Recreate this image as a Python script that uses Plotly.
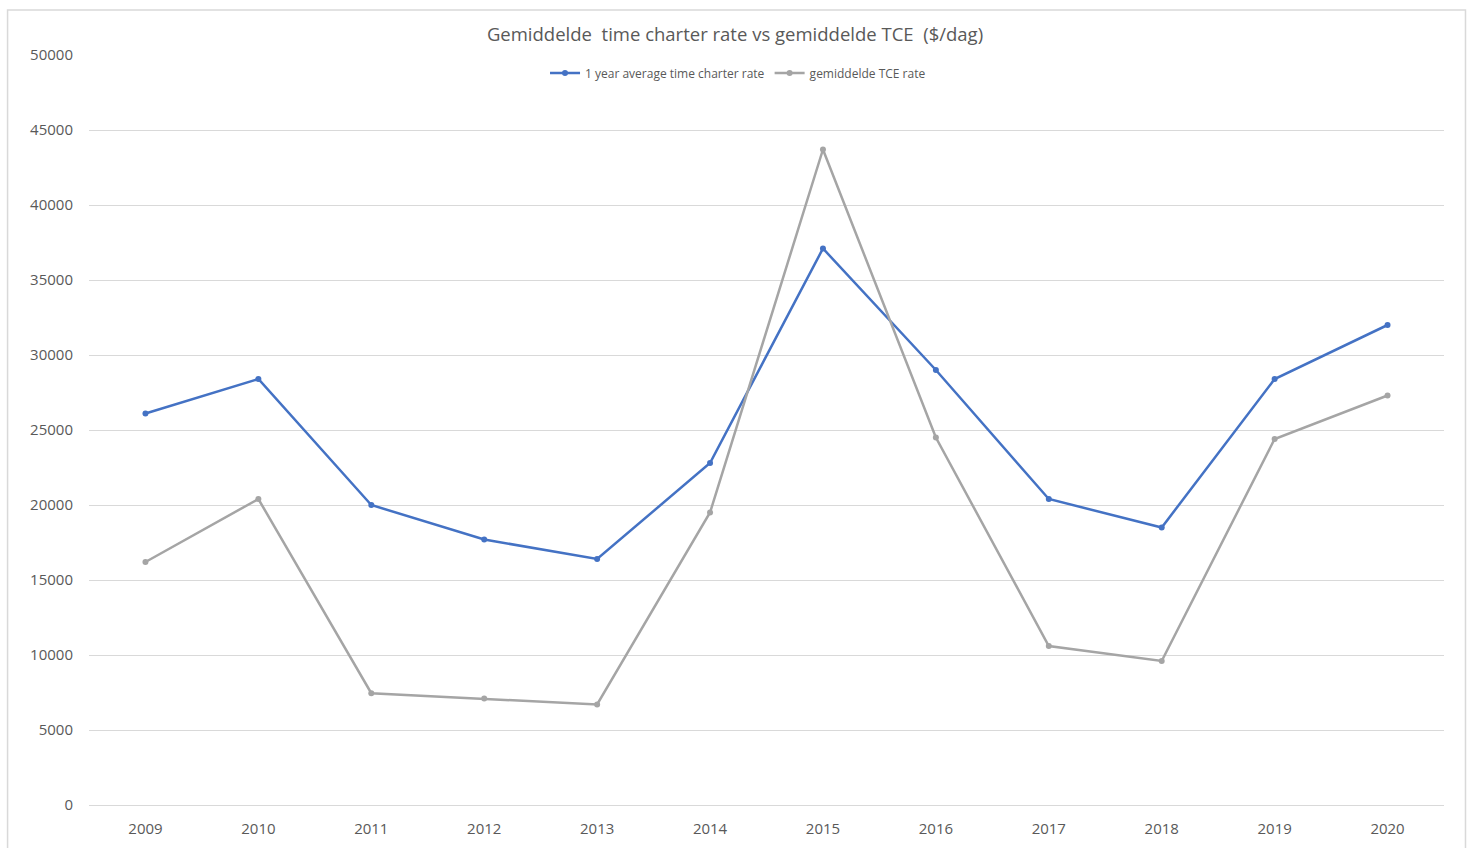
import plotly.graph_objects as go

# Yearly averages, $/day
years = ["2009", "2010", "2011", "2012", "2013", "2014", "2015", "2016", "2017", "2018", "2019", "2020"]
time_charter_rate = [26100, 28400, 20000, 17700, 16400, 22800, 37100, 29000, 20400, 18500, 28400, 32000]
tce_rate = [16200, 20400, 7450, 7100, 6700, 19500, 43700, 24500, 10600, 9600, 24400, 27300]

W, H = 1470, 848
L, R, T, B = 88.5, 25.5, 55, 43
pw, ph = W - L - R, H - T - B

def px_x(x):
    return (x - L) / pw

def px_y(y):
    return (H - B - y) / ph

font_family = "Open Sans, Liberation Sans, sans-serif"
text_grey = "#595959"
grid_grey = "#d9d9d9"

fig = go.Figure()
fig.add_trace(go.Scatter(
    x=years, y=time_charter_rate, name="1 year average time charter rate",
    mode="lines+markers",
    line=dict(color="#4472c4", width=2.5),
    marker=dict(color="#4472c4", size=6, symbol="circle"),
))
fig.add_trace(go.Scatter(
    x=years, y=tce_rate, name="gemiddelde TCE rate",
    mode="lines+markers",
    line=dict(color="#a5a5a5", width=2.5),
    marker=dict(color="#a5a5a5", size=6, symbol="circle"),
))

fig.update_layout(
    width=W, height=H,
    margin=dict(l=L, r=R, t=T, b=B, pad=0, autoexpand=False),
    paper_bgcolor="white", plot_bgcolor="white",
    font=dict(family=font_family, color=text_grey),
    title=dict(
        text="Gemiddelde  time charter rate vs gemiddelde TCE  ($/dag)",
        x=735 / W, xref="container", xanchor="center",
        y=1 - 35 / H, yref="container", yanchor="middle",
        font=dict(size=18.5, color=text_grey, family=font_family),
    ),
    legend=dict(
        orientation="h", x=px_x(738), xanchor="center", xref="paper",
        y=px_y(73), yanchor="middle", yref="paper",
        font=dict(size=12, color=text_grey),
        itemwidth=30, tracegroupgap=0,
        bgcolor="rgba(0,0,0,0)",
    ),
    xaxis=dict(
        type="category", range=[-0.5, 11.5],
        showgrid=False, showline=False, zeroline=False,
        ticks="", tickfont=dict(size=15, color=text_grey),
        ticklabelstandoff=13, automargin=False,
        fixedrange=True,
    ),
    yaxis=dict(
        range=[0, 50000], dtick=5000, tick0=0,
        showgrid=True, gridcolor=grid_grey, gridwidth=1,
        zeroline=True, zerolinecolor=grid_grey, zerolinewidth=1,
        showline=False, ticks="",
        tickfont=dict(size=15, color=text_grey),
        tickformat="d", ticklabelstandoff=15, automargin=False,
        fixedrange=True,
    ),
    shapes=[dict(
        type="rect", xref="paper", yref="paper",
        x0=px_x(7), x1=px_x(1466), y0=px_y(870), y1=px_y(10),
        line=dict(color=grid_grey, width=1.5), fillcolor="rgba(0,0,0,0)",
        layer="below",
    )],
    showlegend=True,
)

fig.write_html("out.html")
